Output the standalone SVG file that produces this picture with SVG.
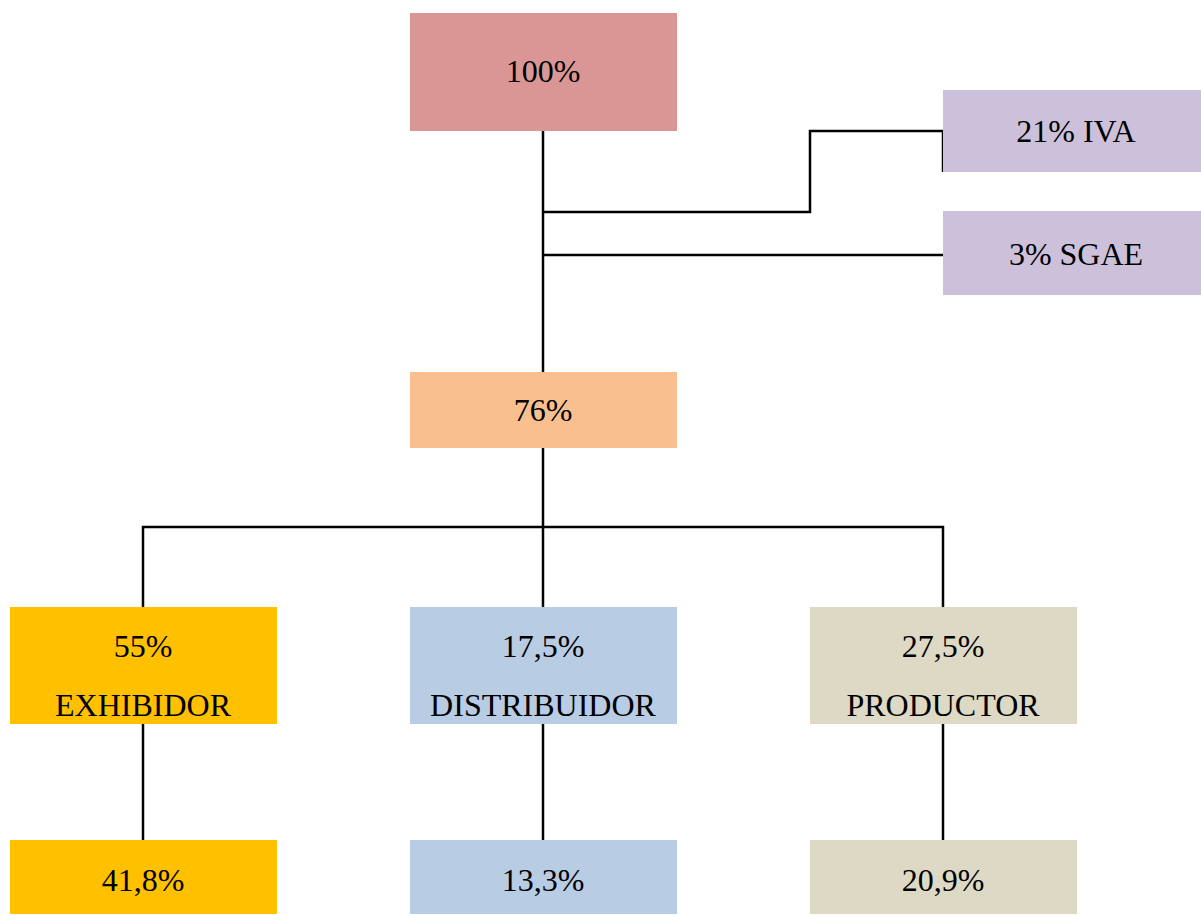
<svg xmlns="http://www.w3.org/2000/svg" width="1201" height="915" viewBox="0 0 1201 915">
<style>
text{font-family:"Liberation Serif","Times New Roman",serif;font-size:32px;fill:#000;text-anchor:middle}
.c{fill:none;stroke:#000;stroke-width:2.5}
</style>
<rect width="1201" height="915" fill="#fff"/>
<g id="connectors">
<path class="c" d="M543 131V372"/>
<path class="c" d="M543 212H810V131H943V172"/>
<path class="c" d="M543 255H943"/>
<path class="c" d="M543 448V607M143 607V527H943V607"/>
<path class="c" d="M143 724V840M543 724V840M943 724V840"/>
</g>
<g id="n100"><rect x="410" y="13" width="267" height="118" fill="#DA9694"/><text x="543" y="82">100%</text></g>
<g id="iva"><rect x="943" y="90" width="258" height="82" fill="#CCC0DA"/><text x="1076" y="142">21% IVA</text></g>
<g id="sgae"><rect x="943" y="211" width="258" height="84" fill="#CCC0DA"/><text x="1076" y="265">3% SGAE</text></g>
<g id="n76"><rect x="410" y="372" width="267" height="76" fill="#FABF8F"/><text x="543" y="421">76%</text></g>
<g id="exhibidor"><rect x="10" y="607" width="267" height="117" fill="#FFC000"/><text x="143" y="657">55%</text><text x="143" y="716">EXHIBIDOR</text></g>
<g id="distribuidor"><rect x="410" y="607" width="267" height="117" fill="#B8CCE4"/><text x="543" y="657">17,5%</text><text x="543" y="716">DISTRIBUIDOR</text></g>
<g id="productor"><rect x="810" y="607" width="267" height="117" fill="#DDD9C4"/><text x="943" y="657">27,5%</text><text x="943" y="716">PRODUCTOR</text></g>
<g id="e2"><rect x="10" y="840" width="267" height="74" fill="#FFC000"/><text x="143" y="891">41,8%</text></g>
<g id="d2"><rect x="410" y="840" width="267" height="74" fill="#B8CCE4"/><text x="543" y="891">13,3%</text></g>
<g id="p2"><rect x="810" y="840" width="267" height="74" fill="#DDD9C4"/><text x="943" y="891">20,9%</text></g>
</svg>
